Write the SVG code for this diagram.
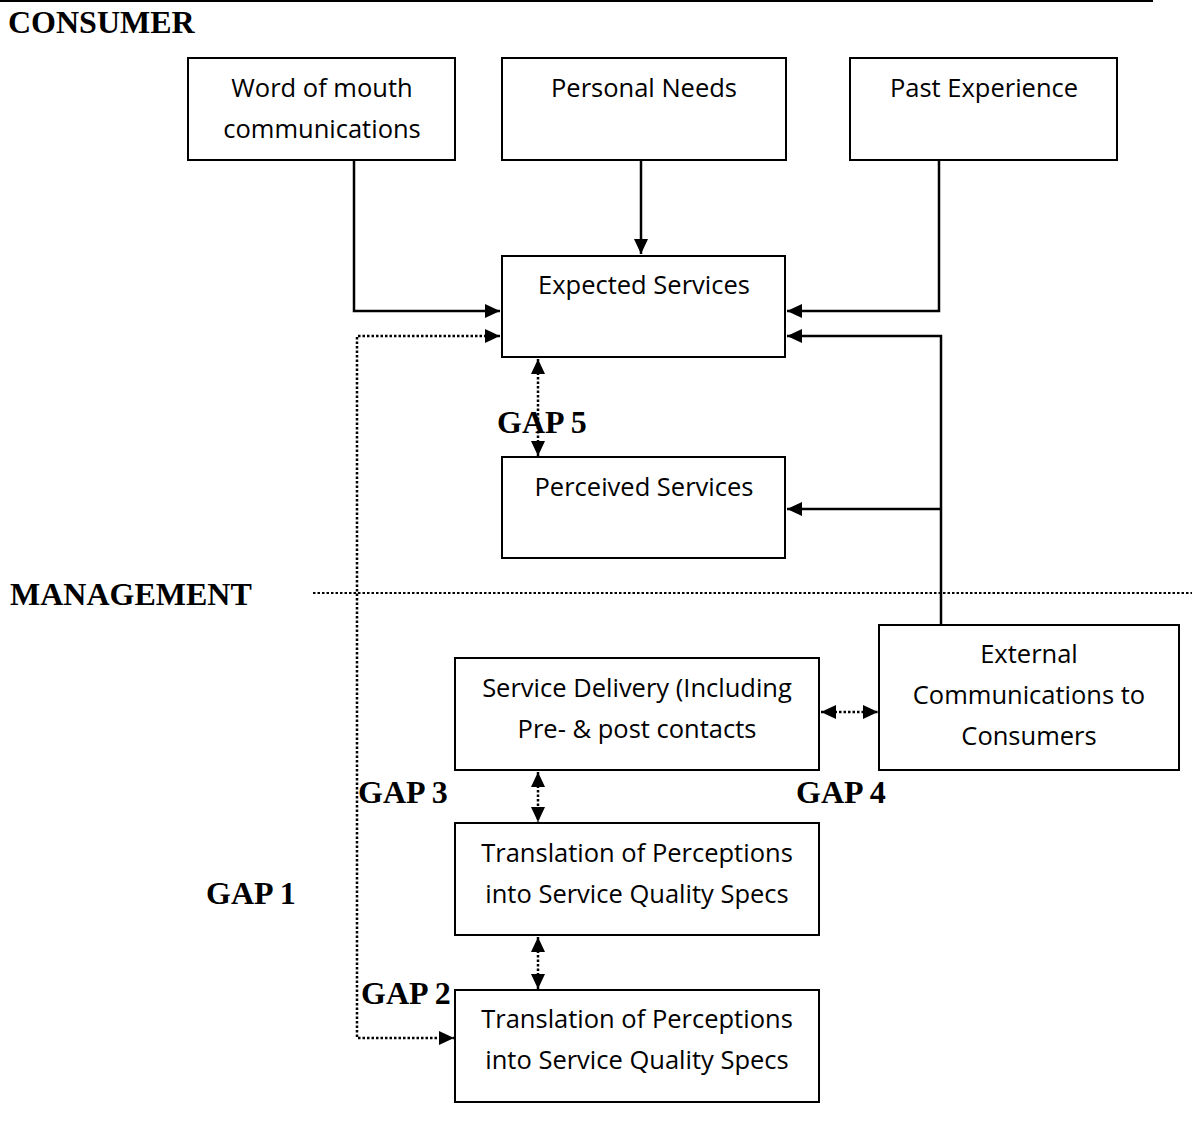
<svg xmlns="http://www.w3.org/2000/svg" width="1192" height="1121" viewBox="0 0 1192 1121">
<style>
.box{fill:#fff;stroke:#000;stroke-width:2}
.t{font-family:"Open Sans","Liberation Sans",sans-serif;font-size:25.5px;fill:#000;text-anchor:middle}
.h{font-family:"Liberation Serif","Times New Roman",serif;font-size:32px;font-weight:bold;fill:#000}
.solid{fill:none;stroke:#000;stroke-width:2.5}
.dot{fill:none;stroke:#000;stroke-width:2.5;stroke-dasharray:2.5 2}
</style>
<defs>
<marker id="ah" markerUnits="userSpaceOnUse" markerWidth="16" markerHeight="16" refX="15" refY="7" orient="auto-start-reverse" viewBox="0 0 16 14">
<path d="M0,0 L15,7 L0,14 z" fill="#000"/>
</marker>
</defs>
<rect width="1192" height="1121" fill="#fff"/>
<line x1="0" y1="1" x2="1153" y2="1" stroke="#000" stroke-width="2"/>
<text class="h" x="8" y="33">CONSUMER</text>
<text class="h" x="10" y="605">MANAGEMENT</text>
<g id="connectors">
<path class="solid" d="M354,160 V311 H500" marker-end="url(#ah)"/>
<path class="solid" d="M641,160 V254" marker-end="url(#ah)"/>
<path class="solid" d="M939,160 V311 H787" marker-end="url(#ah)"/>
<path class="solid" d="M941,625 V336 H787" marker-end="url(#ah)"/>
<path class="solid" d="M941,509 H787" marker-end="url(#ah)"/>
<path class="dot" d="M500,336 H357 V1038 H454" marker-start="url(#ah)" marker-end="url(#ah)"/>
<path class="dot" d="M538,359 V456" marker-start="url(#ah)" marker-end="url(#ah)"/>
<path class="dot" d="M538,772 V822" marker-start="url(#ah)" marker-end="url(#ah)"/>
<path class="dot" d="M538,937 V989" marker-start="url(#ah)" marker-end="url(#ah)"/>
<path class="dot" d="M821,712 H878" marker-start="url(#ah)" marker-end="url(#ah)"/>
<path class="dot" d="M313,593 H1192" style="stroke-width:2"/>
</g>
<g id="n-wom"><rect class="box" x="188" y="58" width="267" height="102"/><text class="t" x="322" y="97">Word of mouth</text><text class="t" x="322" y="138">communications</text></g>
<g id="n-pn"><rect class="box" x="502" y="58" width="284" height="102"/><text class="t" x="644" y="97">Personal Needs</text></g>
<g id="n-pe"><rect class="box" x="850" y="58" width="267" height="102"/><text class="t" x="984" y="97">Past Experience</text></g>
<g id="n-es"><rect class="box" x="502" y="256" width="283" height="101"/><text class="t" x="644" y="294">Expected Services</text></g>
<g id="n-ps"><rect class="box" x="502" y="457" width="283" height="101"/><text class="t" x="644" y="496">Perceived Services</text></g>
<g id="n-ext"><rect class="box" x="879" y="625" width="300" height="145"/><text class="t" x="1029" y="663">External</text><text class="t" x="1029" y="704">Communications to</text><text class="t" x="1029" y="745">Consumers</text></g>
<g id="n-sd"><rect class="box" x="455" y="658" width="364" height="112"/><text class="t" x="637" y="697">Service Delivery (Including</text><text class="t" x="637" y="738">Pre- &amp; post contacts</text></g>
<g id="n-t1"><rect class="box" x="455" y="823" width="364" height="112"/><text class="t" x="637" y="862">Translation of Perceptions</text><text class="t" x="637" y="903">into Service Quality Specs</text></g>
<g id="n-t2"><rect class="box" x="455" y="990" width="364" height="112"/><text class="t" x="637" y="1028">Translation of Perceptions</text><text class="t" x="637" y="1069">into Service Quality Specs</text></g>
<g id="labels">
<text class="h" x="497" y="433">GAP 5</text>
<text class="h" x="358" y="803">GAP 3</text>
<text class="h" x="796" y="803">GAP 4</text>
<text class="h" x="206" y="904">GAP 1</text>
<text class="h" x="361" y="1004">GAP 2</text>
</g>
</svg>
